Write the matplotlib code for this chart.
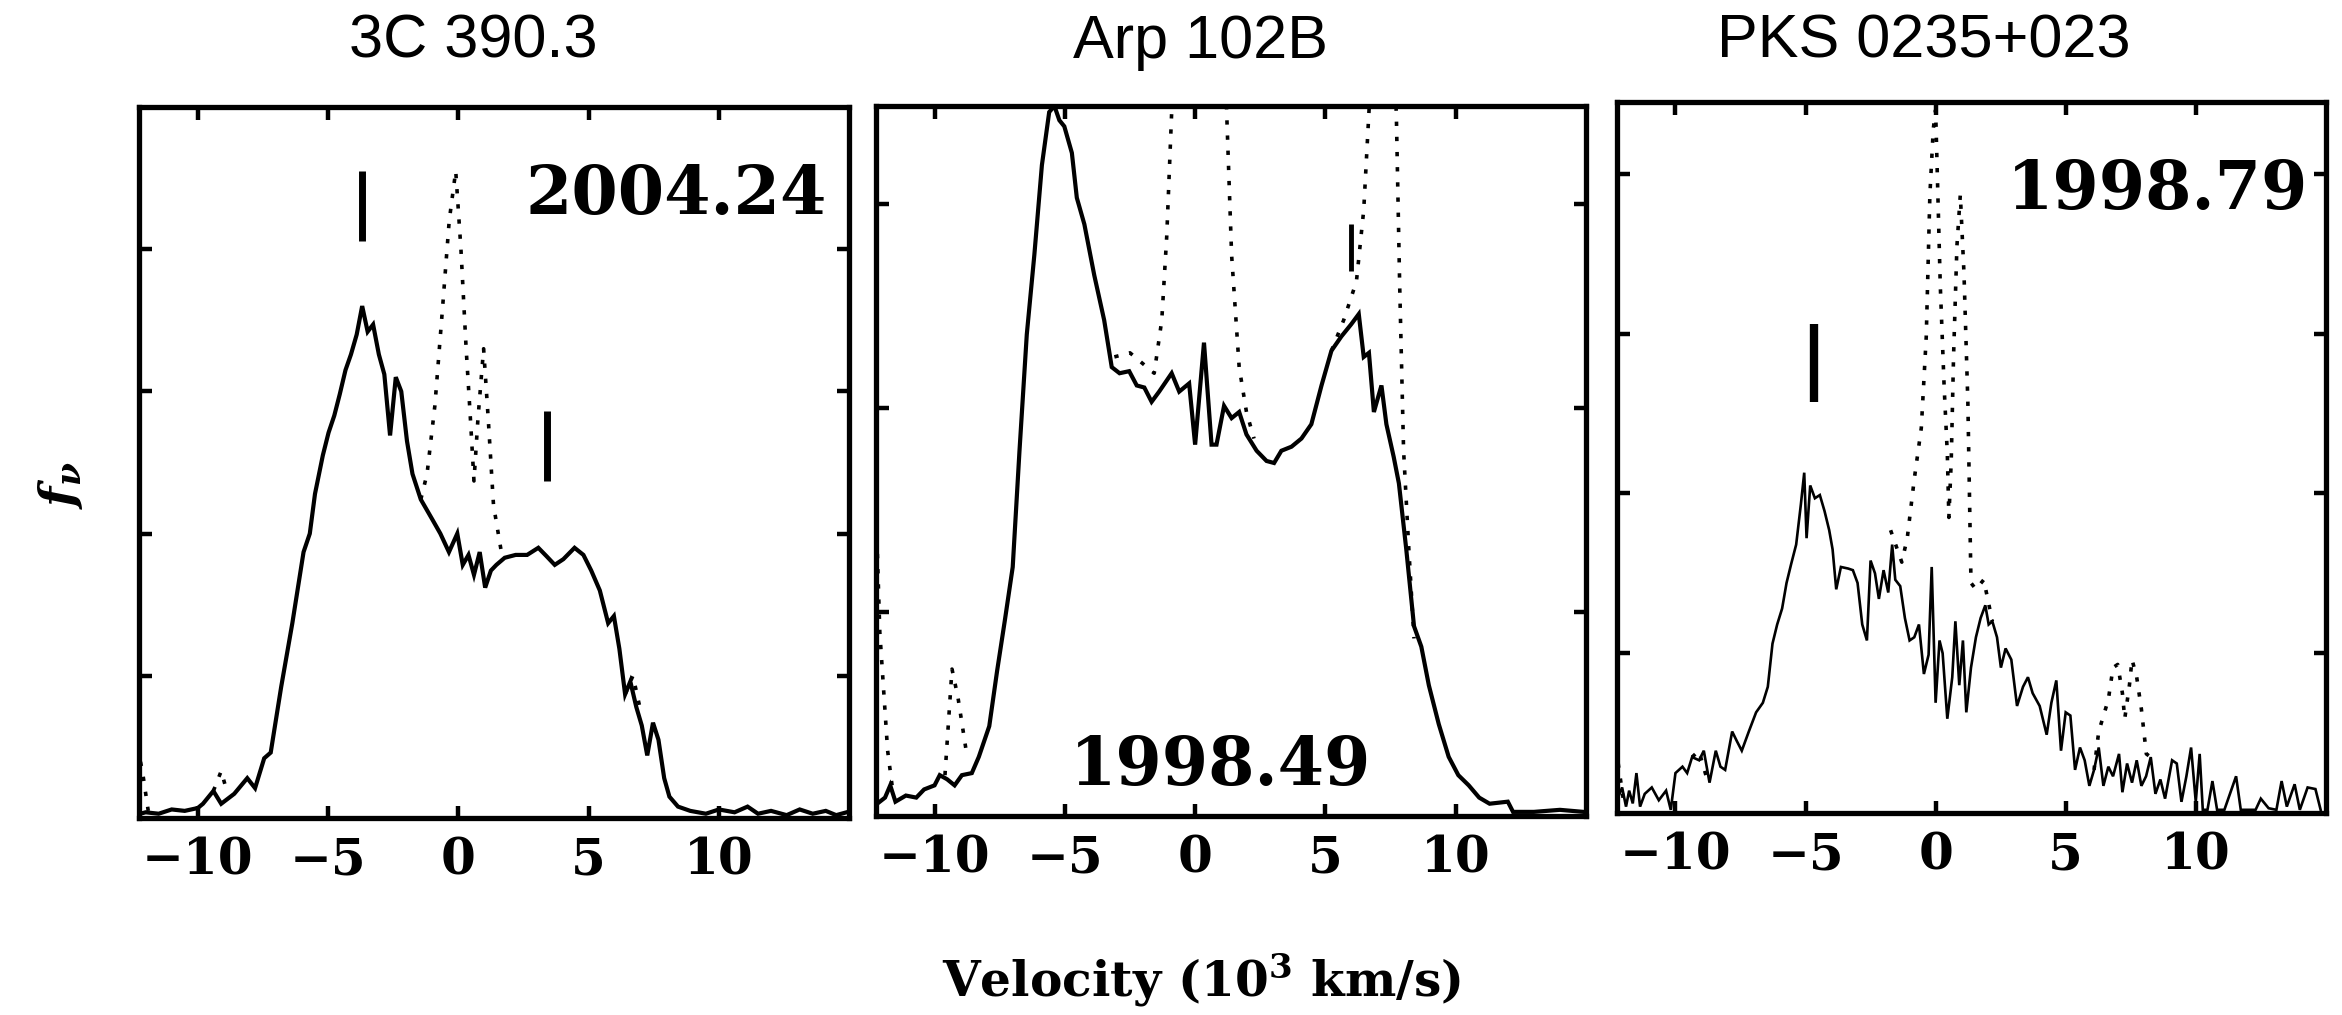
import matplotlib
matplotlib.use("Agg")
import matplotlib.pyplot as plt

plt.rcParams['mathtext.fontset'] = 'custom'
plt.rcParams['mathtext.rm'] = 'DejaVu Serif:bold'
plt.rcParams['mathtext.bf'] = 'DejaVu Serif:bold'
plt.rcParams['mathtext.it'] = 'DejaVu Serif:italic:bold'

titles = ['3C 390.3', 'Arp 102B', 'PKS 0235+023']
epochs = ['2004.24', '1998.49', '1998.79']
xticks = [-10, -5, 0, 5, 10]

# ---- 3C 390.3 (panel 1), flux in tick units (ylim 0..5)
v1 = [-12.4, -12.0, -11.5, -11.0, -10.5, -10.0, -9.8, -9.4, -9.1, -8.6, -8.1, -7.8, -7.45,
      -7.2, -6.8, -6.37, -5.94, -5.7, -5.5, -5.2, -4.98, -4.76, -4.55, -4.33, -4.12, -3.9,
      -3.69, -3.48, -3.27, -3.05, -2.84, -2.62, -2.4, -2.19, -1.97, -1.76, -1.44, -1.0,
      -0.69, -0.36, -0.04, 0.17, 0.39, 0.6, 0.82, 1.03, 1.25, 1.46, 1.78, 2.2, 2.64, 3.07,
      3.39, 3.7, 4.03, 4.46, 4.8, 5.1, 5.43, 5.75, 5.97, 6.18, 6.4, 6.6, 6.83, 7.04, 7.25,
      7.47, 7.68, 7.9, 8.1, 8.43, 8.9, 9.5, 10.0, 10.6, 11.1, 11.5, 12.0, 12.6, 13.1, 13.6,
      14.1, 14.5, 14.9]
f1 = [0.02, 0.04, 0.03, 0.06, 0.05, 0.07, 0.10, 0.19, 0.10, 0.17, 0.28, 0.21, 0.42,
      0.46, 0.92, 1.37, 1.87, 2.00, 2.28, 2.55, 2.71, 2.83, 2.98, 3.15, 3.26, 3.40,
      3.60, 3.42, 3.47, 3.26, 3.12, 2.69, 3.10, 3.00, 2.65, 2.42, 2.24, 2.10,
      2.00, 1.87, 2.00, 1.78, 1.85, 1.71, 1.87, 1.62, 1.74, 1.78, 1.83, 1.85, 1.85, 1.90,
      1.84, 1.78, 1.82, 1.90, 1.85, 1.74, 1.60, 1.37, 1.42, 1.19, 0.87, 0.96, 0.78, 0.65, 0.44,
      0.67, 0.55, 0.28, 0.15, 0.08, 0.05, 0.03, 0.06, 0.04, 0.08, 0.03, 0.05, 0.02, 0.06, 0.03,
      0.05, 0.02, 0.04]
dv1 = [[-12.3, -12.1, -11.9], [-1.44, -1.2, -0.9, -0.6, -0.35, -0.1, 0.1, 0.3, 0.45, 0.6,
                              0.75, 0.97, 1.15, 1.35, 1.67],
       [-9.4, -9.1, -8.9], [6.4, 6.7, 7.0]]
df1 = [[0.50, 0.30, 0.05], [2.24, 2.42, 2.9, 3.6, 4.2, 4.55, 4.0, 3.3, 2.85, 2.37,
                           2.8, 3.30, 2.8, 2.2, 1.85],
       [0.19, 0.33, 0.2], [0.87, 1.0, 0.75]]
bars1 = [(-3.69, 4.06, 4.55), (3.39, 2.37, 2.86)]

# ---- Arp 102B (panel 2), ylim 0..3.48
v2 = [-12.3, -11.9, -11.7, -11.5, -11.1, -10.7, -10.4, -10.0, -9.8, -9.52, -9.23, -8.95,
      -8.57, -8.3, -7.9, -7.6, -7.3, -7.0, -6.74, -6.46, -6.17, -5.88, -5.6, -5.4, -5.21,
      -5.02, -4.73, -4.54, -4.25, -3.87, -3.49, -3.2, -2.9, -2.53, -2.24, -1.95, -1.67, -1.38,
      -0.9, -0.61, -0.23, 0.0, 0.34, 0.63, 0.82, 1.11, 1.4, 1.69, 1.97, 2.36, 2.74, 3.03,
      3.31, 3.7, 4.08, 4.46, 4.85, 5.23, 5.61, 5.99, 6.28, 6.47, 6.67, 6.86, 7.15, 7.34,
      7.62, 7.82, 8.1, 8.4, 8.68, 8.97, 9.35, 9.73, 10.1, 10.5, 10.9, 11.3, 12.0, 12.2,
      13.0, 14.0, 14.9]
f2 = [0.05, 0.09, 0.15, 0.07, 0.10, 0.09, 0.13, 0.15, 0.20, 0.18, 0.15, 0.20,
      0.21, 0.29, 0.44, 0.71, 0.96, 1.22, 1.79, 2.36, 2.75, 3.19, 3.45, 3.48, 3.41,
      3.38, 3.25, 3.03, 2.90, 2.65, 2.43, 2.20, 2.17, 2.18, 2.11, 2.10, 2.03, 2.08,
      2.17, 2.08, 2.12, 1.82, 2.32, 1.82, 1.82, 2.01, 1.95, 1.98, 1.87, 1.79, 1.74, 1.73,
      1.79, 1.81, 1.85, 1.92, 2.11, 2.28, 2.35, 2.41, 2.46, 2.25, 2.27, 1.98, 2.11, 1.92,
      1.76, 1.63, 1.31, 0.93, 0.83, 0.64, 0.45, 0.29, 0.20, 0.15, 0.09, 0.06, 0.07, 0.02,
      0.02, 0.03, 0.02]
dv2 = [[-12.3, -12.1, -11.8, -11.6], [-9.6, -9.33, -9.1, -8.75],
       [-3.1, -2.5, -1.57, -1.28, -1.09, -0.9, -0.7, 0.2, 1.0, 1.21, 1.4, 1.69, 1.97, 2.26],
       [5.23, 5.7, 6.19, 6.47, 6.67, 6.9, 7.2, 7.45, 7.72, 7.85, 8.0, 8.2, 8.4]]
df2 = [[1.73, 0.9, 0.32, 0.12], [0.2, 0.72, 0.58, 0.29],
       [2.25, 2.27, 2.17, 2.43, 2.84, 3.45, 4.5, 6.0, 4.5, 3.45, 2.75, 2.2, 1.98, 1.85],
       [2.28, 2.43, 2.62, 2.97, 3.45, 4.0, 3.5, 4.0, 3.45, 2.6, 1.79, 1.31, 0.87]]
bars2 = [(6.0, 2.67, 2.9)]

# ---- PKS 0235+023 (panel 3), ylim 0..4.45
v3 = [-12.2, -12.05, -11.9, -11.78, -11.64, -11.5, -11.36, -11.18, -10.91, -10.64, -10.36,
      -10.18, -10.0, -9.73, -9.55, -9.36, -9.09, -8.91, -8.69, -8.45, -8.27, -8.09, -7.82,
      -7.64, -7.45, -7.18, -6.9, -6.64, -6.45, -6.27, -6.09, -5.9, -5.73, -5.55, -5.36,
      -5.18, -5.05, -4.96, -4.82, -4.64, -4.45, -4.27, -4.09, -3.96, -3.82, -3.64, -3.36,
      -3.18, -3.0, -2.82, -2.64, -2.5, -2.33, -2.18, -2.0, -1.82, -1.67, -1.55, -1.36,
      -1.18, -1.0, -0.82, -0.64, -0.45, -0.27, -0.15, 0.0, 0.15, 0.27, 0.45, 0.64, 0.76,
      0.91, 1.05, 1.18, 1.36, 1.55, 1.73, 1.91, 2.04, 2.18, 2.36, 2.51, 2.69, 2.91, 3.13,
      3.36, 3.55, 3.73, 4.0, 4.27, 4.45, 4.64, 4.82, 5.0, 5.18, 5.36, 5.55, 5.73, 5.91,
      6.09, 6.27, 6.45, 6.64, 6.82, 7.05, 7.18, 7.36, 7.55, 7.73, 7.91, 8.09, 8.27, 8.45,
      8.64, 8.82, 9.09, 9.27, 9.45, 9.64, 9.82, 10.0, 10.15, 10.27, 10.45, 10.64, 10.82,
      11.1, 11.55, 11.73, 12.3, 12.5, 12.8, 13.1, 13.3, 13.5, 13.8, 14.0, 14.3, 14.6,
      14.8]
f3 = [0.10, 0.16, 0.04, 0.14, 0.06, 0.25, 0.04, 0.12, 0.16, 0.08, 0.14,
      0.02, 0.25, 0.29, 0.25, 0.35, 0.33, 0.39, 0.19, 0.39, 0.29, 0.27, 0.51,
      0.45, 0.39, 0.51, 0.63, 0.69, 0.79, 1.06, 1.18, 1.28, 1.44, 1.56, 1.68,
      1.93, 2.13, 1.72, 2.05, 1.97, 1.99, 1.89, 1.77, 1.65, 1.40, 1.54, 1.53,
      1.52, 1.44, 1.18, 1.08, 1.58, 1.50, 1.34, 1.52, 1.38, 1.68, 1.46, 1.42,
      1.22, 1.08, 1.10, 1.18, 0.87, 0.99, 1.54, 0.69, 1.08, 1.00, 0.59, 0.85, 1.20,
      0.80, 1.08, 0.63, 0.91, 1.10, 1.22, 1.30, 1.18, 1.20, 1.10, 0.91, 1.03, 0.96, 0.67,
      0.79, 0.85, 0.75, 0.67, 0.49, 0.69, 0.83, 0.39, 0.63, 0.61, 0.27, 0.41, 0.33, 0.17,
      0.27, 0.41, 0.17, 0.29, 0.23, 0.37, 0.13, 0.31, 0.19, 0.33, 0.17, 0.23, 0.35, 0.12,
      0.21, 0.09, 0.33, 0.31, 0.07, 0.23, 0.41, 0.07, 0.37, 0.02, 0.02, 0.20, 0.02,
      0.02, 0.23, 0.02, 0.02, 0.09, 0.03, 0.02, 0.20, 0.04, 0.18, 0.02, 0.16, 0.15,
      0.02]
dv3 = [[-12.2, -12.0], [-9.36, -9.1, -8.8],
       [-1.73, -1.3, -1.09, -0.82, -0.55, -0.36, -0.22, -0.09, 0.0, 0.09, 0.18, 0.33, 0.45,
        0.51, 0.6, 0.69, 0.82, 0.95, 1.09, 1.24, 1.36, 1.55, 1.85, 2.18],
       [6.09, 6.27, 6.64, 6.82, 7.0, 7.18, 7.27, 7.45, 7.55, 7.73, 7.91, 8.1, 8.27]]
df3 = [[0.31, 0.08], [0.35, 0.39, 0.22],
       [1.77, 1.57, 1.72, 2.09, 2.41, 2.98, 3.87, 4.28, 4.40, 3.85, 3.30, 2.66, 2.25,
        1.85, 2.2, 2.86, 3.55, 3.87, 3.38, 2.57, 1.44, 1.40, 1.46, 1.20],
       [0.27, 0.51, 0.71, 0.91, 0.93, 0.75, 0.59, 0.80, 0.96, 0.85, 0.65, 0.37, 0.35]]
bars3 = [(-4.69, 2.57, 3.06)]

panels = [
    dict(v=v1, f=f1, dv=dv1, df=df1, bars=bars1, ylim=5.0, yt=[1, 2, 3, 4], lw=3.0, bw=5,
         pos=[0.0594, 0.1941, 0.3032, 0.7005], ep=(0.756, 0.876)),
    dict(v=v2, f=f2, dv=dv2, df=df2, bars=bars2, ylim=3.48, yt=[1, 2, 3], lw=3.0, bw=3.5,
         pos=[0.3740, 0.1961, 0.3032, 0.6995], ep=(0.485, 0.069)),
    dict(v=v3, f=f3, dv=dv3, df=df3, bars=bars3, ylim=4.45, yt=[1, 2, 3, 4], lw=1.9, bw=6,
         pos=[0.6904, 0.1990, 0.3027, 0.7005], ep=(0.762, 0.876)),
]
title_x = [0.2020, 0.5124, 0.8215]

fig = plt.figure(figsize=(23.42, 10.15), dpi=100)

for i, p in enumerate(panels):
    ax = fig.add_axes(p['pos'])
    for xs, ys in zip(p['dv'], p['df']):
        ax.plot(xs, ys, color='black', lw=2.6, linestyle=(0, (1.2, 3.0)))
    ax.plot(p['v'], p['f'], color='black', lw=p['lw'], solid_joinstyle='miter')
    for bx, b0, b1 in p['bars']:
        ax.plot([bx, bx], [b0, b1], color='black', lw=p['bw'], solid_capstyle='butt')
    ax.set_xlim(-12.25, 15.0)
    ax.set_ylim(0, p['ylim'])
    ax.set_xticks(xticks)
    ax.set_yticks(p['yt'])
    ax.set_yticklabels([])
    ax.tick_params(axis='both', direction='in', length=9, width=3.2,
                   top=True, right=True)
    ax.tick_params(axis='x', pad=13)
    for lab in ax.get_xticklabels():
        lab.set_fontfamily('DejaVu Serif')
        lab.set_fontweight('heavy')
        lab.set_fontsize(36)
    for s in ax.spines.values():
        s.set_linewidth(3.8)
    ax.text(p['ep'][0], p['ep'][1], epochs[i], transform=ax.transAxes,
            ha='center', va='center', fontsize=48, fontweight='bold',
            family='DejaVu Serif')
    fig.text(title_x[i], 0.9586, titles[i], ha='center', va='center',
             fontsize=44, family='Liberation Sans')

fig.text(0.513, 0.034, r'Velocity (10$^{3}$ km/s)', ha='center', va='center',
         fontsize=35, fontweight='bold', family='DejaVu Serif')
fig.text(0.026, 0.522, r'$f_{\nu}$', ha='center', va='center', rotation=90,
         fontsize=34)

fig.savefig('out.png', dpi=100)
